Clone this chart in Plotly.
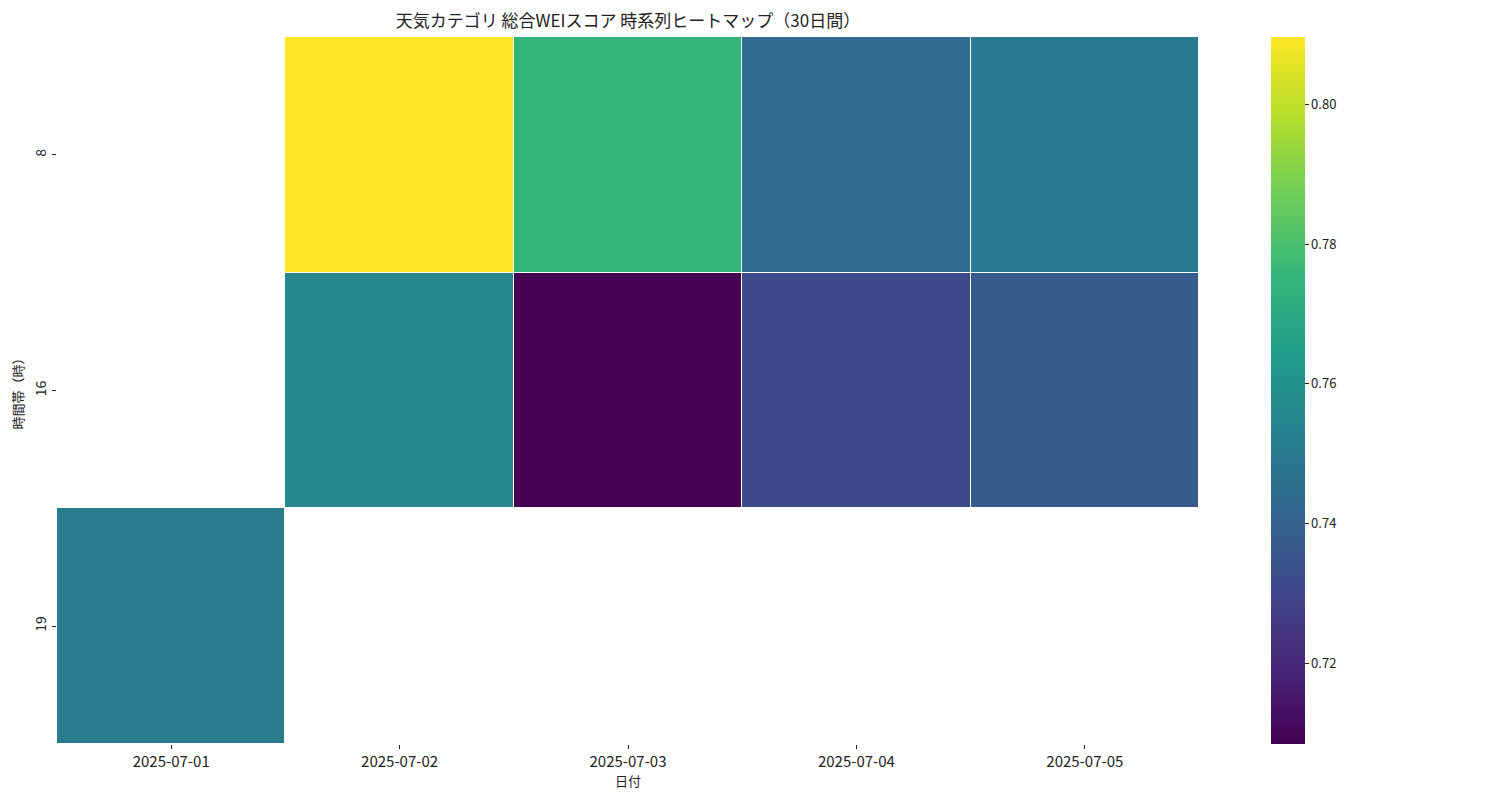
import plotly.graph_objects as go

dates = ["2025-07-01", "2025-07-02", "2025-07-03", "2025-07-04", "2025-07-05"]
hours = ["8", "16", "19"]
# rows = hours, cols = dates (None = no data)
row_8 = [None, 0.8097, 0.775, 0.744, 0.750]
row_16 = [None, 0.756, 0.7084, 0.731, 0.737]
row_19 = [0.751, None, None, None, None]
z = [row_8, row_16, row_19]

font = "Noto Sans CJK JP, Noto Sans, sans-serif"

fig = go.Figure(go.Heatmap(
    z=z, x=dates, y=hours,
    colorscale="Viridis",
    zmin=0.7084, zmax=0.8097,
    xgap=1, ygap=1,
    hoverongaps=False,
    colorbar=dict(
        x=1.063, xanchor="left", xref="paper",
        y=0.5, yanchor="middle", len=1.0, lenmode="fraction",
        thickness=34, outlinewidth=0, xpad=0, ypad=0,
        ticks="outside", ticklen=4, tickwidth=1, tickcolor="#222",
        tickvals=[0.72, 0.74, 0.76, 0.78, 0.80],
        ticktext=["0.72", "0.74", "0.76", "0.78", "0.80"],
        tickfont=dict(size=13, color="#222", family=font),
    ),
))

fig.update_layout(
    width=1500, height=800,
    margin=dict(l=49, r=309, t=29, b=64, autoexpand=False),
    paper_bgcolor="white", plot_bgcolor="white",
    font=dict(family=font, color="#222"),
    title=dict(text="天気カテゴリ 総合WEIスコア 時系列ヒートマップ（30日間）",
               x=0.5, xref="paper", xanchor="center",
               y=1 - 13/800, yanchor="middle",
               font=dict(size=17, color="#222", family=font)),
    xaxis=dict(type="category", title=dict(text="日付", font=dict(size=13), standoff=6),
               ticks="outside", ticklen=4, tickcolor="#222", showgrid=False,
               zeroline=False, showline=False, tickfont=dict(size=15), automargin=False),
    yaxis=dict(type="category", autorange="reversed",
               title=dict(text="時間帯（時）", font=dict(size=13), standoff=6),
               ticks="outside", ticklen=4, tickcolor="#222", showgrid=False,
               zeroline=False, showline=False, tickangle=-90, tickfont=dict(size=14),
               automargin=False),
)

fig.write_html("out.html")
